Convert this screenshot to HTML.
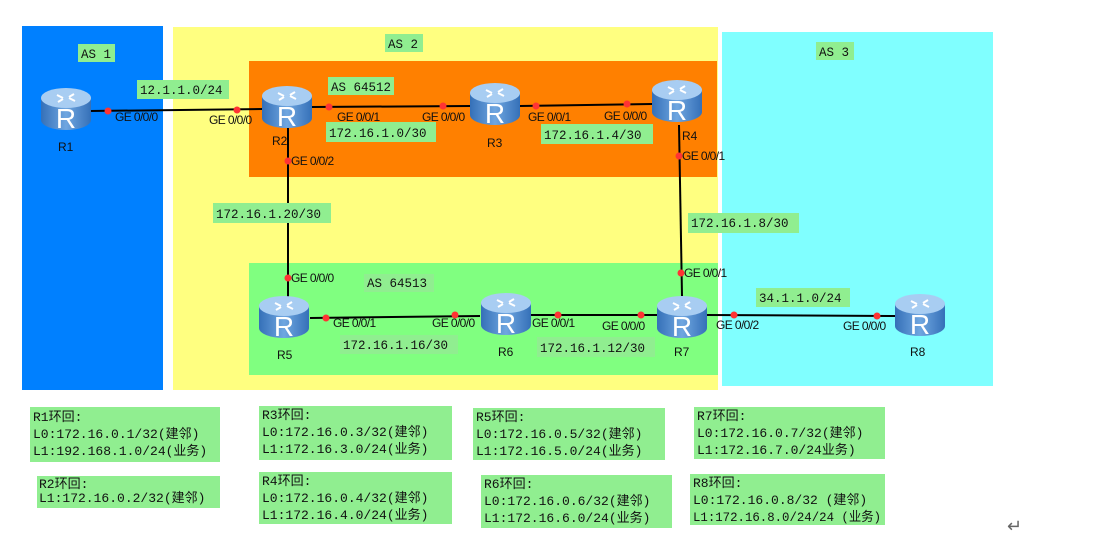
<!DOCTYPE html>
<html><head><meta charset="utf-8"><style>
html,body{margin:0;padding:0;background:#fff;}
svg{display:block;}
.ge{font-family:"Liberation Sans",sans-serif;font-size:12px;fill:#111;letter-spacing:-0.6px;}
.net{font-family:"Liberation Mono",monospace;font-size:12.5px;fill:#111;}
.rn{font-family:"Liberation Sans",sans-serif;font-size:12px;fill:#111;}
.lb{font-family:"Liberation Mono","Noto Sans CJK SC",monospace;font-size:13px;fill:#111;}
</style></head><body>
<svg width="1106" height="557" viewBox="0 0 1106 557" xmlns="http://www.w3.org/2000/svg">
<defs>
<linearGradient id="rg" x1="0" x2="1" y1="0" y2="0">
<stop offset="0" stop-color="#3570b8"/><stop offset="0.5" stop-color="#6fa6e0"/><stop offset="1" stop-color="#3570b8"/>
</linearGradient>
<g id="rt">
<rect x="-25" y="-10" width="50" height="22" fill="url(#rg)"/>
<ellipse cx="0" cy="12" rx="25" ry="10" fill="url(#rg)"/>
<ellipse cx="0" cy="-10" rx="25" ry="10" fill="#a8cdf2"/>
<path d="M-9,-13 l6,3 M9,-7 l-6,-3 M-8,-6 l5,-3 M8,-14 l-5,3" stroke="#fff" stroke-width="2"/>
<text x="0" y="20" text-anchor="middle" font-family="Liberation Sans,sans-serif" font-size="28" fill="#fff">R</text>
</g>
</defs>
<rect x="22" y="26" width="141" height="364" fill="#0080ff"/>
<rect x="173" y="27" width="545" height="363" fill="#ffff80"/>
<rect x="249" y="61" width="468" height="116" fill="#ff8000"/>
<rect x="249" y="263" width="469" height="112" fill="#80ff80"/>
<rect x="722" y="32" width="271" height="354" fill="#80ffff"/>

<rect x="78" y="44" width="37" height="18" fill="#90ee90"/><text class="net" x="81" y="58">AS 1</text>
<rect x="385" y="34" width="38" height="18" fill="#90ee90"/><text class="net" x="388" y="48">AS 2</text>
<rect x="816" y="42" width="38" height="18" fill="#90ee90"/><text class="net" x="819" y="56">AS 3</text>
<rect x="328" y="77" width="66" height="18" fill="#90ee90"/><text class="net" x="331" y="91">AS 64512</text>
<rect x="364" y="274" width="70" height="18" fill="#90ee90"/><text class="net" x="367" y="287">AS 64513</text>

<g stroke="#000" stroke-width="2" fill="none">
<line x1="90" y1="111" x2="262" y2="109"/>
<line x1="312" y1="107" x2="470" y2="106"/>
<line x1="520" y1="106" x2="652" y2="104"/>
<line x1="288" y1="128" x2="288" y2="298"/>
<line x1="679" y1="125" x2="682" y2="296"/>
<line x1="310" y1="318" x2="480" y2="316"/>
<line x1="528" y1="315" x2="657" y2="315"/>
<line x1="707" y1="315" x2="895" y2="316"/>
</g>
<g fill="#ff3333">
<circle cx="108" cy="111" r="3.5"/><circle cx="237" cy="110" r="3.5"/>
<circle cx="329" cy="107" r="3.5"/><circle cx="443" cy="106" r="3.5"/>
<circle cx="536" cy="106" r="3.5"/><circle cx="627" cy="104" r="3.5"/>
<circle cx="288" cy="161" r="3.5"/><circle cx="679" cy="156" r="3.5"/>
<circle cx="288" cy="278" r="3.5"/><circle cx="681" cy="273" r="3.5"/>
<circle cx="326" cy="318" r="3.5"/><circle cx="455" cy="315" r="3.5"/>
<circle cx="558" cy="315" r="3.5"/><circle cx="641" cy="315" r="3.5"/>
<circle cx="734" cy="315" r="3.5"/><circle cx="877" cy="316" r="3.5"/>
</g>
<use href="#rt" x="66" y="108"/><use href="#rt" x="287" y="106"/>
<use href="#rt" x="495" y="103"/><use href="#rt" x="677" y="100"/>
<use href="#rt" x="284" y="316"/><use href="#rt" x="506" y="313"/>
<use href="#rt" x="682" y="316"/><use href="#rt" x="920" y="314"/>
<text class="rn" x="58" y="151">R1</text><text class="rn" x="272" y="145">R2</text>
<text class="rn" x="487" y="147">R3</text><text class="rn" x="682" y="140">R4</text>
<text class="rn" x="277" y="359">R5</text><text class="rn" x="498" y="356">R6</text>
<text class="rn" x="674" y="356">R7</text><text class="rn" x="910" y="356">R8</text>

<text class="ge" x="115" y="121">GE 0/0/0</text><text class="ge" x="209" y="124">GE 0/0/0</text>
<text class="ge" x="337" y="121">GE 0/0/1</text><text class="ge" x="422" y="121">GE 0/0/0</text>
<text class="ge" x="528" y="121">GE 0/0/1</text><text class="ge" x="604" y="120">GE 0/0/0</text>
<text class="ge" x="291" y="165">GE 0/0/2</text><text class="ge" x="682" y="160">GE 0/0/1</text>
<text class="ge" x="291" y="282">GE 0/0/0</text><text class="ge" x="684" y="277">GE 0/0/1</text>
<text class="ge" x="333" y="327">GE 0/0/1</text><text class="ge" x="432" y="327">GE 0/0/0</text>
<text class="ge" x="532" y="327">GE 0/0/1</text><text class="ge" x="602" y="330">GE 0/0/0</text>
<text class="ge" x="716" y="329">GE 0/0/2</text><text class="ge" x="843" y="330">GE 0/0/0</text>

<g fill="#90ee90">
<rect x="137" y="80" width="92" height="19"/><rect x="326" y="122" width="110" height="20"/>
<rect x="541" y="124" width="112" height="20"/><rect x="213" y="203" width="118" height="20"/>
<rect x="688" y="213" width="111" height="20"/><rect x="340" y="335" width="118" height="19"/>
<rect x="537" y="337" width="118" height="20"/><rect x="756" y="288" width="94" height="19"/>
</g>
<text class="net" x="140" y="94">12.1.1.0/24</text><text class="net" x="329" y="137">172.16.1.0/30</text>
<text class="net" x="544" y="139">172.16.1.4/30</text><text class="net" x="216" y="218">172.16.1.20/30</text>
<text class="net" x="691" y="227">172.16.1.8/30</text><text class="net" x="343" y="349">172.16.1.16/30</text>
<text class="net" x="540" y="352">172.16.1.12/30</text><text class="net" x="759" y="302">34.1.1.0/24</text>

<g fill="#90ee90">
<rect x="30" y="407" width="190" height="55"/><rect x="37" y="476" width="183" height="32"/>
<rect x="259" y="406" width="193" height="54"/><rect x="259" y="472" width="193" height="52"/>
<rect x="473" y="408" width="192" height="52"/><rect x="481" y="475" width="191" height="53"/>
<rect x="694" y="407" width="191" height="52"/><rect x="690" y="474" width="195" height="51"/>
</g>
<g class="lb">
<text x="33" y="421">R1环回:</text><text x="33" y="438">L0:172.16.0.1/32(建邻)</text><text x="33" y="455">L1:192.168.1.0/24(业务)</text>
<text x="39" y="488">R2环回:</text><text x="39" y="502">L1:172.16.0.2/32(建邻)</text>
<text x="262" y="419">R3环回:</text><text x="262" y="436">L0:172.16.0.3/32(建邻)</text><text x="262" y="453">L1:172.16.3.0/24(业务)</text>
<text x="262" y="485">R4环回:</text><text x="262" y="502">L0:172.16.0.4/32(建邻)</text><text x="262" y="519">L1:172.16.4.0/24(业务)</text>
<text x="476" y="421">R5环回:</text><text x="476" y="438">L0:172.16.0.5/32(建邻)</text><text x="476" y="455">L1:172.16.5.0/24(业务)</text>
<text x="484" y="488">R6环回:</text><text x="484" y="505">L0:172.16.0.6/32(建邻)</text><text x="484" y="522">L1:172.16.6.0/24(业务)</text>
<text x="697" y="420">R7环回:</text><text x="697" y="437">L0:172.16.0.7/32(建邻)</text><text x="697" y="454">L1:172.16.7.0/24业务)</text>
<text x="693" y="487">R8环回:</text><text x="693" y="504">L0:172.16.0.8/32 (建邻)</text><text x="693" y="521" textLength="188" lengthAdjust="spacingAndGlyphs">L1:172.16.8.0/24/24 (业务)</text>
</g>
<text x="1007" y="532" font-family="Liberation Sans,sans-serif" font-size="18" fill="#666">↵</text>
</svg>
</body></html>
